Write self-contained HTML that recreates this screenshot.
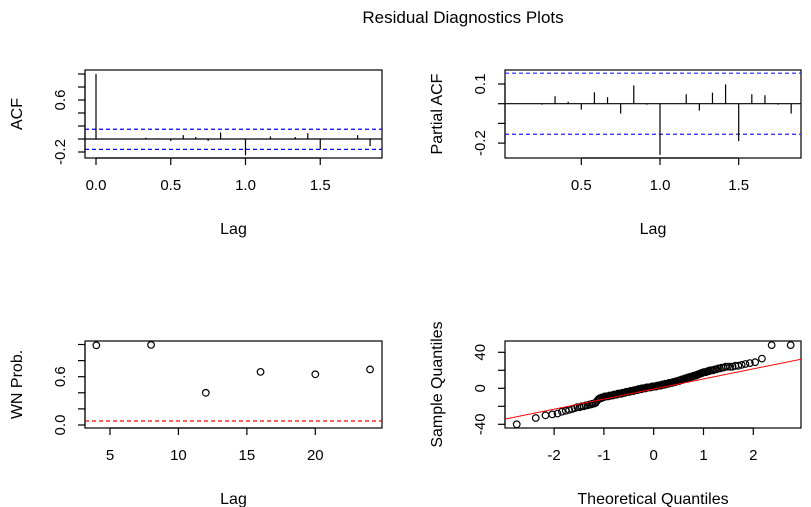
<!DOCTYPE html>
<html><head><meta charset="utf-8"><style>
body{margin:0;background:#fff}
svg{display:block;font-family:"Liberation Sans",Arial,sans-serif}
</style></head><body>
<svg id="c" width="811" height="507" viewBox="0 0 811 507">
<text x="463" y="23" font-size="17" text-anchor="middle">Residual Diagnostics Plots</text>
</svg>
<script>
const acfLags=[0,1,2,3,4,5,6,7,8,9,10,11,12,13,14,15,16,17,18,19,20,21,22];
const acfValues=[1.0,0.0,0.0,0.005,0.02,0.01,-0.03,0.06,0.03,-0.03,0.1,0.0,-0.25,0.01,0.04,0.0,0.03,0.09,-0.16,0.0,0.0,0.06,-0.11];
const acfBounds=[0.15,-0.16];
const pacfLags=[1,2,3,4,5,6,7,8,9,10,11,12,13,14,15,16,17,18,19,20,21,22];
const pacfValues=[0,0,-0.005,0.038,0.01,-0.03,0.058,0.033,-0.05,0.093,-0.005,-0.26,0,0.048,-0.035,0.056,0.098,-0.19,0.048,0.043,-0.005,-0.05];
const pacfBounds=[0.155,-0.155];
const wnLags=[4,8,12,16,20,24];
const wnProb=[0.99,0.995,0.40,0.66,0.63,0.69];
const wnThreshold=[0.05];
const qqSample=[-40,-33,-30,-29,-28,-26,-25,-24,-23,-22,
-21,-21,-20,-20,-19,-19,-18,-18,-17,-17,
-16,-14,-12,-11,-11,-10,-10,-9,-9,-9,
-9,-8,-8,-8,-8,-7,-7,-7,-7,-6,-6,-6,-6,-6,-5,-5,-5,-5,-4,-4,
-4,-4,-4,-3,-3,-3,-3,-3,-2,-2,-2,-2,-2,-1,-1,-1,-1,-1,0,0,0,0,0,0,1,1,1,1,1,1,1,2,2,2,
2,2,2,2,3,3,3,3,3,3,4,4,4,4,4,5,5,5,5,5,6,6,6,6,6,7,7,7,7,8,8,8,8,9,
9,9,10,10,10,11,11,11,12,12,12,13,13,13,14,14,14,15,15,16,16,17,17,18,18,18,19,19,20,20,
20,21,21,22,22,23,23,24,24,24,
24,25,25,26,27,28,29,33,48,48];
const qqLine=[-0.8,11.2]; // intercept, slope
const svg=document.getElementById('c');
const NS='http://www.w3.org/2000/svg';
function mk(tag,attrs,parent){const e=document.createElementNS(NS,tag);for(const k in attrs)e.setAttribute(k,attrs[k]);(parent||svg).appendChild(e);return e;}
function lin(d0,d1,r0,r1){return v=>r0+(v-d0)*(r1-r0)/(d1-d0);}
function panel(name,box,xs,ys,xt,yt,xl,yl){
  const g=mk('g',{'stroke-width':1.2});
  
  
  const r=mk('rect',{x:box[0],y:box[1],width:box[2]-box[0],height:box[3]-box[1],fill:'none',stroke:'#000'},g);
  
  
  const xa=mk('g',{},g);
  
  
  mk('line',{x1:xs(xt[0]),x2:xs(xt[xt.length-1]),y1:box[3],y2:box[3],stroke:'#000'},xa);
  xt.forEach(t=>{mk('line',{x1:xs(t),x2:xs(t),y1:box[3],y2:box[3]+7,stroke:'#000'},xa);
    const tx=mk('text',{x:xs(t),y:box[3]+32,'font-size':15,'text-anchor':'middle'},xa);tx.textContent=t.label;
    
    });
  const ya=mk('g',{},g);
  
  
  mk('line',{x1:box[0],x2:box[0],y1:ys(yt[0]),y2:ys(yt[yt.length-1]),stroke:'#000'},ya);
  yt.forEach(t=>{mk('line',{x1:box[0],x2:box[0]-7,y1:ys(t),y2:ys(t),stroke:'#000'},ya);
    if(t.label){const tx=mk('text',{x:box[0]-20,y:ys(t),'font-size':15,'text-anchor':'middle',transform:`rotate(-90 ${box[0]-20} ${ys(t)})`},ya);tx.textContent=t.label;
    
    }});
  const xlab=mk('text',{x:(box[0]+box[2])/2,y:box[3]+76,'font-size':16,'text-anchor':'middle'},g);xlab.textContent=xl;
  
  
  const cy=(box[1]+box[3])/2,lx=box[0]-63;
  const ylab=mk('text',{x:lx,y:cy,'font-size':16,'text-anchor':'middle',transform:`rotate(-90 ${lx} ${cy})`},g);ylab.textContent=yl;
  
  
  return g;
}
function T(v,l){const o=new Number(v);o.label=l;return o;}
// ACF
(function(){
  const box=[85,70,382,158];
  const xs=lin(0,1,96,245.5), ys=lin(0,1,139,74);
  const g=panel('acf',box,xs,ys,[T(0,'0.0'),T(0.5,'0.5'),T(1,'1.0'),T(1.5,'1.5')],
    [T(-0.2,'-0.2'),T(0,''),T(0.2,''),T(0.4,''),T(0.6,'0.6'),T(0.8,''),T(1,'')],'Lag','ACF');
  mk('line',{x1:box[0],x2:box[2],y1:ys(0),y2:ys(0),stroke:'#000'},g);
  acfBounds.forEach(b=>{const l=mk('line',{x1:box[0],x2:box[2],y1:ys(b),y2:ys(b),stroke:'#0000ff','stroke-dasharray':'4,3'},g);
    
    });
  acfLags.forEach((k,i)=>{const l=mk('line',{x1:xs(k/12),x2:xs(k/12),y1:ys(0),y2:ys(acfValues[i]),stroke:'#000'},g);
    
    });
})();
// PACF
(function(){
  const box=[505,70,801,158];
  const xs=lin(0.5,1.5,581.3,738.7), ys=lin(0,0.1,103.7,84);
  const g=panel('pacf',box,xs,ys,[T(0.5,'0.5'),T(1,'1.0'),T(1.5,'1.5')],
    [T(-0.2,'-0.2'),T(-0.1,''),T(0,''),T(0.1,'0.1')],'Lag','Partial ACF');
  mk('line',{x1:box[0],x2:box[2],y1:ys(0),y2:ys(0),stroke:'#000'},g);
  pacfBounds.forEach(b=>{const l=mk('line',{x1:box[0],x2:box[2],y1:ys(b),y2:ys(b),stroke:'#2020ff','stroke-dasharray':'4,3'},g);
    
    });
  pacfLags.forEach((k,i)=>{const l=mk('line',{x1:xs(k/12),x2:xs(k/12),y1:ys(0),y2:ys(pacfValues[i]),stroke:'#000'},g);
    
    });
})();
// WN
(function(){
  const box=[85,341,382,428];
  const xs=lin(5,20,110,315.3), ys=lin(0,1,425,344.5);
  const g=panel('wn',box,xs,ys,[T(5,'5'),T(10,'10'),T(15,'15'),T(20,'20')],
    [T(0,'0.0'),T(0.2,''),T(0.4,''),T(0.6,'0.6'),T(0.8,''),T(1,'')],'Lag','WN Prob.');
  wnThreshold.forEach(b=>{const l=mk('line',{x1:box[0],x2:box[2],y1:ys(b),y2:ys(b),stroke:'#ff0000','stroke-dasharray':'4,3'},g);
    
    });
  wnLags.forEach((k,i)=>{const c=mk('circle',{cx:xs(k),cy:ys(wnProb[i]),r:3.3,fill:'none',stroke:'#000'},g);
    
    });
})();
// QQ
(function(){
  const box=[505,341,801,428];
  const xs=lin(0,2,653.7,753.3), ys=lin(0,40,388.3,352.3);
  const g=panel('qq',box,xs,ys,[T(-2,'-2'),T(-1,'-1'),T(0,'0'),T(1,'1'),T(2,'2')],
    [T(-40,'-40'),T(-20,''),T(0,'0'),T(20,''),T(40,'40')],'Theoretical Quantiles','Sample Quantiles');
  function qnorm(p){const a=[-39.6968302866538,220.946098424521,-275.928510446969,138.357751867269,-30.6647980661472,2.50662827745924],
    b=[-54.4760987982241,161.585836858041,-155.698979859887,66.8013118877197,-13.2806815528857],
    c=[-0.00778489400243029,-0.322396458041136,-2.40075827716184,-2.54973253934373,4.37466414146497,2.93816398269878],
    d=[0.00778469570904146,0.32246712907004,2.445134137143,3.75440866190742];
    let q,r;if(p<0.02425){q=Math.sqrt(-2*Math.log(p));return(((((c[0]*q+c[1])*q+c[2])*q+c[3])*q+c[4])*q+c[5])/((((d[0]*q+d[1])*q+d[2])*q+d[3])*q+1);}
    if(p>1-0.02425){return -qnorm(1-p);}
    q=p-0.5;r=q*q;return(((((a[0]*r+a[1])*r+a[2])*r+a[3])*r+a[4])*r+a[5])*q/(((((b[0]*r+b[1])*r+b[2])*r+b[3])*r+b[4])*r+1);}
  const n=qqSample.length;
  const cl=mk('clipPath',{id:'qqclip'});mk('rect',{x:box[0],y:box[1],width:box[2]-box[0],height:box[3]-box[1]},cl);
  qqSample.forEach((v,i)=>{const q=qnorm((i+0.5)/n);
    const c=mk('circle',{cx:xs(q),cy:ys(v),r:3.3,fill:'none',stroke:'#000'},g);
    
    });
  const q0=-3.1,q1=3.1;
  const l=mk('line',{x1:xs(q0),y1:ys(qqLine[0]+qqLine[1]*q0),x2:xs(q1),y2:ys(qqLine[0]+qqLine[1]*q1),stroke:'#ff0000','stroke-width':1,'clip-path':'url(#qqclip)'},g);
  
  
})();
</script>
</body></html>
